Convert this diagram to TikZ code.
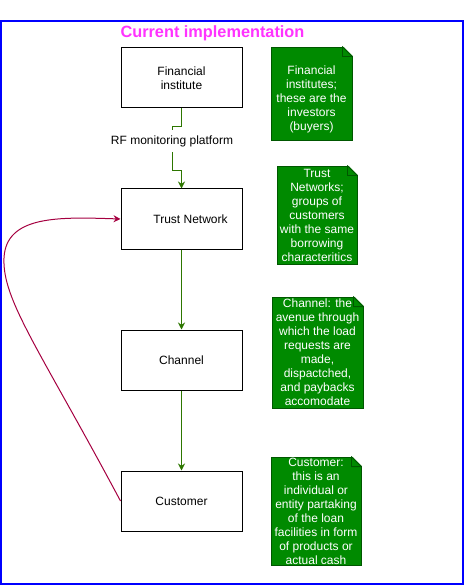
\documentclass[tikz,border=0pt]{standalone}
\usepackage{fontspec}
\setmainfont{Liberation Sans}
\usetikzlibrary{arrows.meta,positioning}
\definecolor{FrameBlue}{HTML}{0000FF}
\definecolor{TitleMagenta}{HTML}{FF33FF}
\definecolor{FlowGreen}{HTML}{2D7600}
\definecolor{NoteGreen}{HTML}{008A00}
\definecolor{NoteEdge}{HTML}{005700}
\definecolor{LoopCrimson}{HTML}{A50040}

% folded top-right corner of a note
\newcommand{\notefold}[1]{%
  \fill[white] ([xshift=-10pt,yshift=1pt]#1.north east) -- ([xshift=1pt,yshift=1pt]#1.north east)
    -- ([xshift=1pt,yshift=-10pt]#1.north east) -- cycle;
  \draw[fold] ([xshift=-10pt]#1.north east) -- ([xshift=-10pt,yshift=-10pt]#1.north east)
    -- ([yshift=-10pt]#1.north east) -- cycle;}

\begin{document}
\begin{tikzpicture}[
  x=1pt, y=-1pt,
  font=\fontsize{12}{14}\selectfont,
  node distance=80pt,
  box/.style={draw=black, line width=1pt, fill=white, align=center,
    minimum width=121pt, minimum height=60pt, inner sep=0pt},
  note/.style={draw=NoteEdge, line width=0.8pt, fill=NoteGreen, text=white,
    align=center, inner sep=0pt},
  fold/.style={draw=NoteEdge, line width=0.8pt, fill=NoteGreen, line join=round},
  title/.style={font=\fontsize{16.3}{18}\selectfont\bfseries, text=TitleMagenta},
  lbl/.style={inner xsep=1pt, inner ysep=5pt},
  flow/.style={line width=1pt, draw=FlowGreen},
  arr/.style={-{Stealth[length=7pt,width=7pt]}, line width=1pt, draw=FlowGreen},
  loop/.style={-{Stealth[length=7pt,width=7pt]}, line width=1pt, draw=LoopCrimson}
]
\useasboundingbox (0,0) rectangle (464,585);
\draw[FrameBlue, line width=1.5pt] (0.75,21) rectangle (463,584);
\node[title] (title) at (212.5,33.5) {Current implementation};

\node[box] (fin) at (181.5,78) {Financial\\institute};
\node[box, below=of fin] (trust) {\hspace*{18pt}Trust Network};
\node[box, below=of trust] (chan) {Channel};
\node[box, below=of chan] (cust) {Customer};

\node[note, minimum width=81pt, minimum height=93pt] (n1) at (311.5,93.5)
  {\rule{0pt}{21pt}Financial\\institutes;\\these are the\\investors\\(buyers)};
\node[note, minimum width=80pt, minimum height=98pt] (n2) at (317,215)
  {Trust\\Networks;\\groups of\\customers\\with the same\\borrowing\\characteritics};
\node[note, minimum width=91pt, minimum height=111pt] (n3) at (317.5,352.5)
  {Channel: the\\avenue through\\which the load\\requests are\\made,\\dispactched,\\and paybacks\\accomodate};
\node[note, minimum width=90pt, minimum height=108pt] (n4) at (316,511)
  {Customer:\\this is an\\individual or\\entity partaking\\of the loan\\facilities in form\\of products or\\actual cash};
\notefold{n1}
\notefold{n2}
\notefold{n3}
\notefold{n4}

\node[lbl] (rf) at (172,141) {RF monitoring platform};
\draw[flow] (fin.south) -- ++(0,18) -| (rf.north);
\draw[arr] (rf.south) -- ++(0,19) -| (trust.north);
\draw[arr] (trust) -- (chan);
\draw[arr] (chan) -- (cust);
\draw[loop] (cust.west) .. controls (40,350) and (2,300) .. (4,258)
  .. controls (6,215) and (60,217) .. (trust.west);
\end{tikzpicture}
\end{document}
